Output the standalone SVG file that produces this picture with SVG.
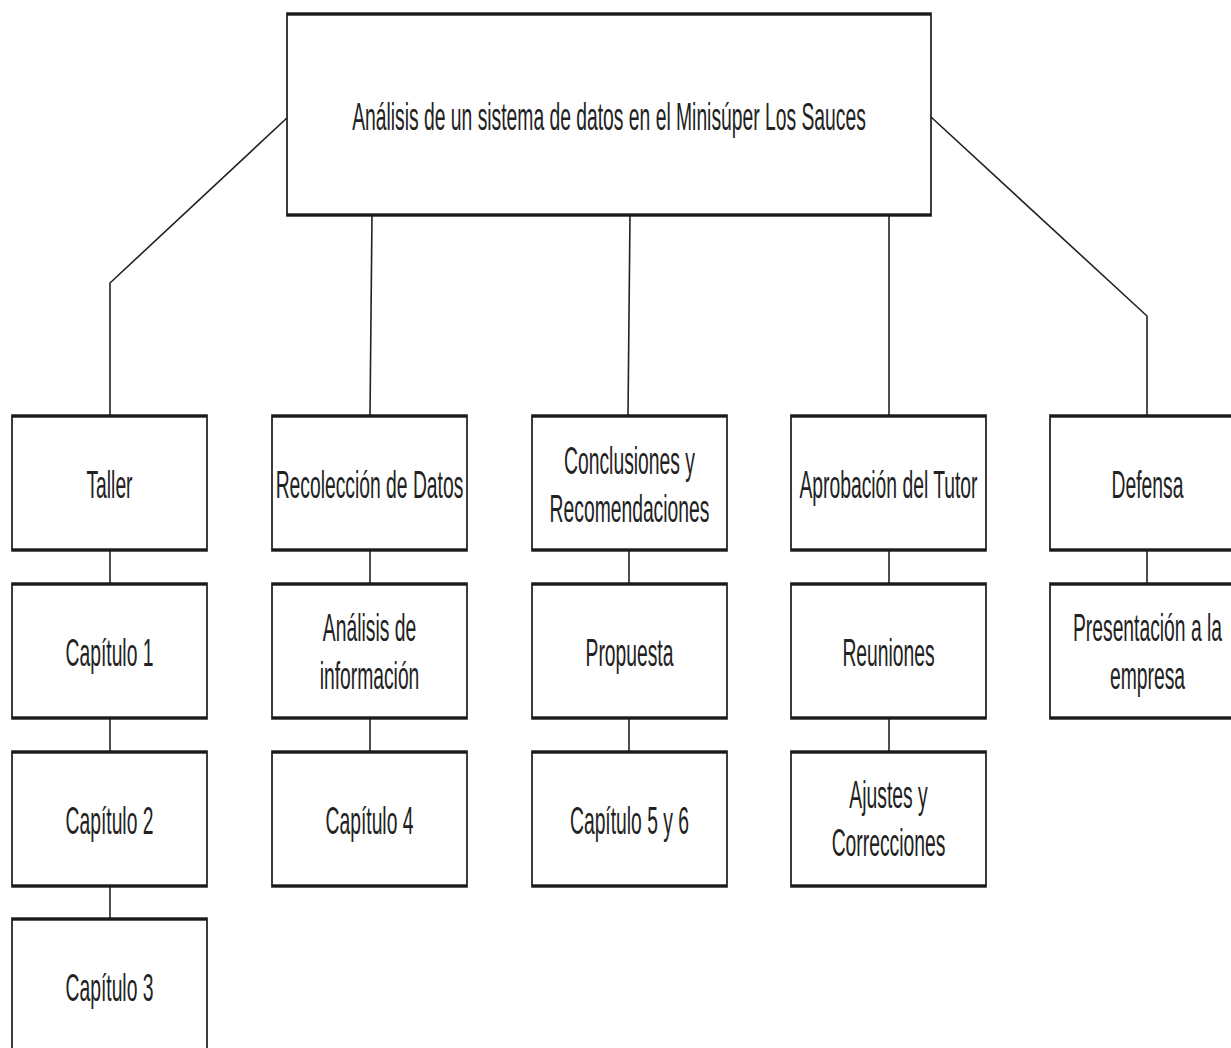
<svg xmlns="http://www.w3.org/2000/svg" width="1231" height="1048" viewBox="0 0 1231 1048">
  <style>
    .box { fill: #ffffff; stroke: #1a1a1a; stroke-width: 1.7; }
    .lbl { font-family: "Liberation Sans", Arial, sans-serif; font-size: 19.3px; fill: #222222; text-anchor: middle; }
    .link { fill: none; stroke: #222222; stroke-width: 1.6; }
  </style>
  <rect width="1231" height="1048" fill="#ffffff"/>

  <!-- connectors -->
  <g id="connectors">
    <polyline class="link" points="288,117 110,283 110,416"/>
    <polyline class="link" points="931,117 1147,316 1147,416"/>
    <line class="link" x1="372" y1="215" x2="370" y2="416"/>
    <line class="link" x1="630" y1="215" x2="628" y2="416"/>
    <line class="link" x1="889" y1="215" x2="889" y2="416"/>

    <line class="link" x1="110" y1="550" x2="110" y2="584"/>
    <line class="link" x1="110" y1="718" x2="110" y2="752"/>
    <line class="link" x1="110" y1="885" x2="110" y2="919"/>

    <line class="link" x1="370" y1="550" x2="370" y2="584"/>
    <line class="link" x1="370" y1="718" x2="370" y2="752"/>

    <line class="link" x1="629" y1="550" x2="629" y2="584"/>
    <line class="link" x1="629" y1="718" x2="629" y2="752"/>

    <line class="link" x1="889" y1="550" x2="889" y2="584"/>
    <line class="link" x1="889" y1="718" x2="889" y2="752"/>

    <line class="link" x1="1147" y1="550" x2="1147" y2="584"/>
  </g>

  <!-- root -->
  <g id="root" transform="translate(287,14) scale(1,2)">
    <rect class="box" width="644" height="100.5"/>
    <text class="lbl" x="322" y="58">Análisis de un sistema de datos en el Minisúper Los Sauces</text>
  </g>

  <!-- column 1 -->
  <g id="taller" transform="translate(12,416) scale(1,2)">
    <rect class="box" width="195" height="67"/>
    <text class="lbl" x="97.5" y="41">Taller</text>
  </g>
  <g id="capitulo-1" transform="translate(12,584) scale(1,2)">
    <rect class="box" width="195" height="67"/>
    <text class="lbl" x="97.5" y="41">Capítulo 1</text>
  </g>
  <g id="capitulo-2" transform="translate(12,752) scale(1,2)">
    <rect class="box" width="195" height="67"/>
    <text class="lbl" x="97.5" y="41">Capítulo 2</text>
  </g>
  <g id="capitulo-3" transform="translate(12,919) scale(1,2)">
    <rect class="box" width="195" height="67"/>
    <text class="lbl" x="97.5" y="41">Capítulo 3</text>
  </g>

  <!-- column 2 -->
  <g id="recoleccion" transform="translate(272,416) scale(1,2)">
    <rect class="box" width="195" height="67"/>
    <text class="lbl" x="97.5" y="41">Recolección de Datos</text>
  </g>
  <g id="analisis-info" transform="translate(272,584) scale(1,2)">
    <rect class="box" width="195" height="67"/>
    <text class="lbl" x="97.5" y="28.5">Análisis de</text>
    <text class="lbl" x="97.5" y="52.5">información</text>
  </g>
  <g id="capitulo-4" transform="translate(272,752) scale(1,2)">
    <rect class="box" width="195" height="67"/>
    <text class="lbl" x="97.5" y="41">Capítulo 4</text>
  </g>

  <!-- column 3 -->
  <g id="conclusiones" transform="translate(532,416) scale(1,2)">
    <rect class="box" width="195" height="67"/>
    <text class="lbl" x="97.5" y="29">Conclusiones y</text>
    <text class="lbl" x="97.5" y="53">Recomendaciones</text>
  </g>
  <g id="propuesta" transform="translate(532,584) scale(1,2)">
    <rect class="box" width="195" height="67"/>
    <text class="lbl" x="97.5" y="41">Propuesta</text>
  </g>
  <g id="capitulo-5-6" transform="translate(532,752) scale(1,2)">
    <rect class="box" width="195" height="67"/>
    <text class="lbl" x="97.5" y="41">Capítulo 5 y 6</text>
  </g>

  <!-- column 4 -->
  <g id="aprobacion" transform="translate(791,416) scale(1,2)">
    <rect class="box" width="195" height="67"/>
    <text class="lbl" x="97.5" y="41">Aprobación del Tutor</text>
  </g>
  <g id="reuniones" transform="translate(791,584) scale(1,2)">
    <rect class="box" width="195" height="67"/>
    <text class="lbl" x="97.5" y="41">Reuniones</text>
  </g>
  <g id="ajustes" transform="translate(791,752) scale(1,2)">
    <rect class="box" width="195" height="67"/>
    <text class="lbl" x="97.5" y="28">Ajustes y</text>
    <text class="lbl" x="97.5" y="52">Correcciones</text>
  </g>

  <!-- column 5 -->
  <g id="defensa" transform="translate(1050,416) scale(1,2)">
    <rect class="box" width="195" height="67"/>
    <text class="lbl" x="97.5" y="41">Defensa</text>
  </g>
  <g id="presentacion" transform="translate(1050,584) scale(1,2)">
    <rect class="box" width="195" height="67"/>
    <text class="lbl" x="97.5" y="28.5">Presentación a la</text>
    <text class="lbl" x="97.5" y="52.5">empresa</text>
  </g>
</svg>
